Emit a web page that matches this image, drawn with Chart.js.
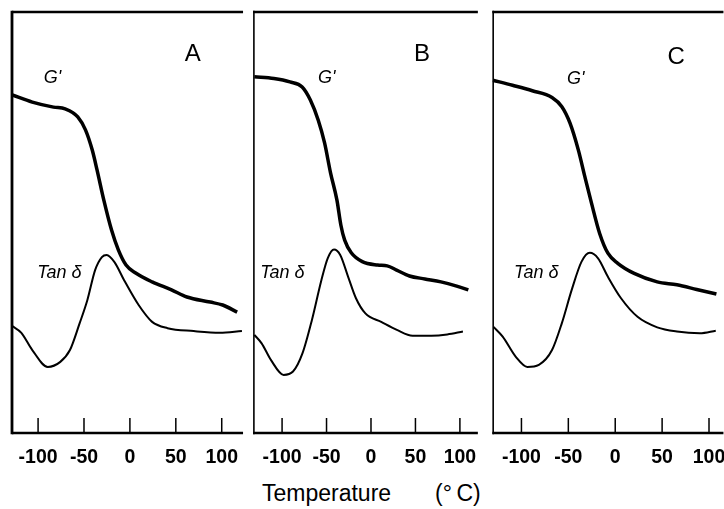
<!DOCTYPE html>
<html><head><meta charset="utf-8">
<script src="https://cdn.jsdelivr.net/npm/chart.js@4/dist/chart.umd.min.js"></script>
<style>
html,body{margin:0;padding:0;background:#fff;overflow:hidden;width:724px;height:509px;position:relative;}
canvas{position:absolute;top:0;display:block;}
.xt{position:absolute;top:482px;font:23px "Liberation Sans",Arial,sans-serif;line-height:1;color:#000;white-space:pre;}
</style></head><body>
<canvas id="cA" width="251" height="469" style="left:0px"></canvas>
<canvas id="cB" width="238" height="469" style="left:251px"></canvas>
<canvas id="cC" width="250" height="469" style="left:489px"></canvas>
<div class="xt" style="left:262px">Temperature</div>
<div class="xt" style="left:435px">(°&thinsp;C)</div>
<script>
// ---- data (temperature in °C, arbitrary modulus / tan δ units 0-100) ----
const xTicks = [-100, -50, 0, 50, 100];
const panelNames = ['A', 'B', 'C'];

const gA_T = [-128.1,-106.3,-83.2,-70.5,-56.8,-48.4,-41,-35.8,-28.4,-20,-12.6,-4.2,6.3,24.2,45.3,62.1,87.4,101,116.8];
const gA_V = [80.3,78.6,77.4,77.0,75.1,72.0,67.2,62.5,55.3,48.2,43.5,39.9,38.0,35.9,34.0,32.3,31.1,30.4,28.7];
const tanA_T = [-128.1,-118.2,-106.3,-89.5,-75.8,-65.3,-54.7,-46.3,-37.9,-30.5,-25.3,-16.8,-6.3,9.5,24.2,41,69.5,97.9,122];
const tanA_V = [25.4,23.8,19.7,15.7,16.9,19.7,26.1,31.6,38.7,41.8,42.3,40.6,36.3,30.4,26.4,24.9,24.2,23.8,24.2];

const gB_T = [-131.2,-109.2,-91.2,-77.4,-68.2,-59.3,-52.2,-45.5,-38.3,-33.9,-29.6,-22.2,-9.8,7.5,18.2,28.8,43.3,60.6,78.7,96.4,109.5];
const gB_V = [84.6,84.2,83.4,82.2,79.1,74.3,68.9,61.8,55.3,49.4,45.8,42.8,40.7,39.9,39.7,38.7,37.3,36.6,35.9,34.9,34.0];
const tanB_T = [-131.2,-123,-112.4,-98.3,-87.7,-77.1,-66.5,-55.8,-48.7,-41.6,-34.6,-25.7,-16.9,-6.3,11.5,29.1,46.8,68,85.8,103.4];
const tanB_V = [23.3,21.3,17.3,13.8,14.6,18.9,26.8,36.3,41.5,43.6,42.3,37.1,32.0,28.4,26.4,24.5,23.1,23.1,23.4,24.1];

const gC_T = [-130.5,-109.5,-88.4,-67.4,-56.9,-48.2,-39.3,-32.4,-25.3,-16.6,-7.8,2.7,20.2,44.8,65.8,86.9,107.9];
const gC_V = [83.8,82.6,81.3,79.7,77.5,73.6,67.2,60.9,54.6,47.4,42.7,40.3,37.9,35.9,35.2,34.1,33.0];
const tanC_T = [-129.8,-120,-106,-93.7,-81.4,-67.4,-56.9,-46.4,-35.9,-27.1,-18.3,-7.8,6.2,23.8,44.8,65.8,90.3,107.2];
const tanC_V = [25.2,22.9,18.1,15.7,16.2,19.7,26.1,34.0,40.7,42.8,41.5,37.1,32.0,27.6,25.1,24.1,23.7,24.3];

// x-range of each panel
const xRangeA = [-128.4, 123.2];
const xRangeB = [-132.6, 120.2];
const xRangeC = [-131.0, 115.4];

// label anchor points in data coordinates [T, value]
const letterPos = [[68.4, 90.0], [57.4, 90.0], [65.1, 89.3]];
const gLabelPos = [[-84.2, 84.3], [-49.8, 84.3], [-42.2, 84.1]];
const tanLabelPos = [[-76.8, 38.0], [-99.7, 38.0], [-84.2, 38.0]];

const FONT = '"Liberation Sans", Arial, sans-serif';

const toXY = (xs, ys) => xs.map((x, i) => ({x: x, y: ys[i]}));

const panelDeco = {
  id: 'panelDeco',
  afterDraw(chart, args, o) {
    const {ctx, chartArea: a, scales} = chart;
    const xs = scales.x, ys = scales.y;
    ctx.save();
    ctx.strokeStyle = '#000';
    ctx.lineCap = 'butt';
    // frame: top and bottom
    ctx.lineWidth = 2.5;
    ctx.beginPath();
    ctx.moveTo(a.left, a.top); ctx.lineTo(a.right, a.top);
    ctx.moveTo(a.left, a.bottom); ctx.lineTo(a.right, a.bottom);
    ctx.stroke();
    // left border
    ctx.lineWidth = o.leftWidth;
    ctx.beginPath();
    ctx.moveTo(a.left + o.leftOffset, a.top - 1.2); ctx.lineTo(a.left + o.leftOffset, a.bottom + 1.2);
    ctx.stroke();
    // inward tick marks
    ctx.lineWidth = 1.5;
    ctx.beginPath();
    xs.ticks.forEach(t => {
      const px = xs.getPixelForValue(t.value);
      ctx.moveTo(px, a.bottom); ctx.lineTo(px, a.bottom - 15);
    });
    ctx.stroke();
    // texts
    ctx.fillStyle = '#000';
    ctx.textAlign = 'center';
    ctx.textBaseline = 'middle';
    ctx.font = '24px ' + FONT;
    ctx.fillText(o.letter, xs.getPixelForValue(o.letterPos[0]), ys.getPixelForValue(o.letterPos[1]));
    ctx.font = 'italic 18px ' + FONT;
    ctx.fillText("G'", xs.getPixelForValue(o.gPos[0]), ys.getPixelForValue(o.gPos[1]));
    ctx.fillText('Tan δ', xs.getPixelForValue(o.tanPos[0]), ys.getPixelForValue(o.tanPos[1]));
    ctx.restore();
  }
};

function makePanel(id, idx, gT, gV, tT, tV, range, pad, leftWidth, leftOffset) {
  return new Chart(document.getElementById(id), {
    type: 'line',
    data: {
      datasets: [
        {label: "G'", data: toXY(gT, gV), borderColor: '#000', borderWidth: 3.5, pointRadius: 0, cubicInterpolationMode: 'monotone', fill: false},
        {label: 'Tan δ', data: toXY(tT, tV), borderColor: '#000', borderWidth: 2, pointRadius: 0, cubicInterpolationMode: 'monotone', fill: false}
      ]
    },
    options: {
      responsive: false,
      animation: false,
      events: [],
      layout: {autoPadding: false, padding: pad},
      plugins: {
        legend: {display: false},
        tooltip: {enabled: false},
        panelDeco: {letter: panelNames[idx], letterPos: letterPos[idx], gPos: gLabelPos[idx], tanPos: tanLabelPos[idx], leftWidth: leftWidth, leftOffset: leftOffset}
      },
      scales: {
        x: {
          type: 'linear', min: range[0], max: range[1],
          afterBuildTicks: s => { s.ticks = xTicks.map(v => ({value: v})); },
          afterFit: s => { s.height = 36; },
          grid: {display: false, drawTicks: false},
          border: {display: false},
          ticks: {padding: 13, color: '#000', font: {family: FONT, size: 19.5, weight: 'bold'}, maxRotation: 0, autoSkip: false}
        },
        y: {type: 'linear', min: 0, max: 100, display: false}
      }
    },
    plugins: [panelDeco]
  });
}

makePanel('cA', 0, gA_T, gA_V, tanA_T, tanA_V, xRangeA, {left: 12, right: 0, top: 12, bottom: 0}, 2.8, 0);
makePanel('cB', 1, gB_T, gB_V, tanB_T, tanB_V, xRangeB, {left: 0, right: 0, top: 12, bottom: 0}, 1.6, 0.8);
makePanel('cC', 2, gC_T, gC_V, tanC_T, tanC_V, xRangeC, {left: 0, right: 15, top: 12, bottom: 0}, 1.6, 0.8);
</script>
</body></html>
